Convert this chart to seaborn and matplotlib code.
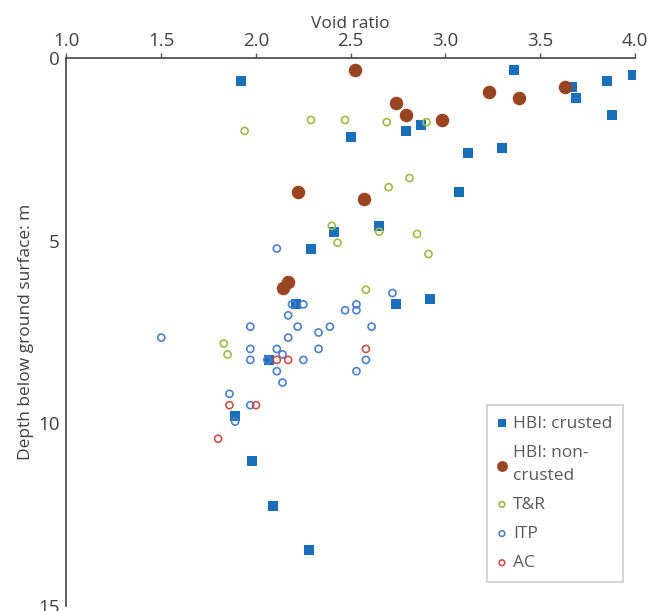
import pandas as pd
import matplotlib.pyplot as plt
import seaborn as sns

# HBI: crusted (void ratio, depth m)
crusted_e = [1.92, 3.36, 3.99, 3.85, 3.67, 3.69, 3.88, 2.87, 2.79, 2.50, 3.30, 3.12,
             3.07, 2.65, 2.41, 2.29, 2.92, 2.74, 2.21, 2.07, 1.89, 1.98, 2.09, 2.28]
crusted_d = [0.61, 0.31, 0.47, 0.61, 0.78, 1.08, 1.54, 1.84, 1.99, 2.15, 2.45, 2.60,
             3.67, 4.59, 4.75, 5.21, 6.59, 6.74, 6.74, 8.26, 9.79, 11.02, 12.25, 13.46]

# HBI: non-crusted
noncrusted_e = [2.52, 3.63, 3.23, 3.39, 2.74, 2.79, 2.98, 2.22, 2.57, 2.17, 2.14]
noncrusted_d = [0.31, 0.78, 0.92, 1.08, 1.23, 1.54, 1.69, 3.67, 3.84, 6.13, 6.28]

# T&R
tr_e = [1.94, 2.29, 2.47, 2.69, 2.90, 2.81, 2.70, 2.40, 2.65, 2.43, 2.85, 2.91, 2.58, 1.83, 1.85]
tr_d = [1.99, 1.69, 1.69, 1.75, 1.75, 3.28, 3.53, 4.59, 4.75, 5.05, 4.81, 5.36, 6.34, 7.81, 8.11]

# ITP
itp_e = [1.50, 1.97, 1.97, 1.97, 2.06, 2.11, 2.14, 2.11, 2.14, 2.17, 2.17, 2.19, 2.25, 2.22,
         2.25, 2.33, 2.33, 2.39, 2.47, 2.53, 2.53, 2.53, 2.61, 2.58, 2.72, 1.86, 1.97, 1.89, 2.11]
itp_d = [7.65, 7.35, 7.96, 8.26, 8.26, 7.96, 8.11, 8.57, 8.88, 7.65, 7.04, 6.74, 6.74, 7.35,
         8.26, 7.51, 7.96, 7.35, 6.90, 6.74, 6.90, 8.57, 7.35, 8.26, 6.43, 9.19, 9.50, 9.95, 5.21]

# AC
ac_e = [2.17, 2.11, 2.58, 1.86, 2.00, 1.80]
ac_d = [8.26, 8.26, 7.96, 9.50, 9.50, 10.42]

sns.set_style("white")
plt.rcParams["font.family"] = ["Open Sans", "DejaVu Sans"]

text_col = "#404040"
fig = plt.figure(figsize=(6.5, 6.11), dpi=100)
ax = fig.add_axes([0.1023, 0.0082, 0.8746, 0.8964])

sns.scatterplot(x=crusted_e, y=crusted_d, ax=ax, marker="s", s=60,
                color="#1a6fba", linewidth=0, label="HBI: crusted")
sns.scatterplot(x=noncrusted_e, y=noncrusted_d, ax=ax, marker="o", s=95,
                color="#984621", linewidth=0, label="HBI: non-\ncrusted")
sns.scatterplot(x=tr_e, y=tr_d, ax=ax, marker="o", s=26, color="#9bbb45",
                facecolor="none", edgecolor="#9bbb45", linewidth=1.2, label="T&R")
sns.scatterplot(x=itp_e, y=itp_d, ax=ax, marker="o", s=26, color="#4a80c9",
                facecolor="none", edgecolor="#4a80c9", linewidth=1.2, label="ITP")
sns.scatterplot(x=ac_e, y=ac_d, ax=ax, marker="o", s=26, color="#cf4f4f",
                facecolor="none", edgecolor="#cf4f4f", linewidth=1.2, label="AC")

ax.set_xlim(1.0, 4.0)
ax.set_ylim(15, 0)
ax.set_xticks([1.0, 1.5, 2.0, 2.5, 3.0, 3.5, 4.0])
ax.set_xticklabels(["1.0", "1.5", "2.0", "2.5", "3.0", "3.5", "4.0"])
ax.set_yticks([0, 5, 10, 15])
ax.xaxis.tick_top()
ax.xaxis.set_label_position("top")
ax.set_xlabel("Void ratio", fontsize=12.5, color=text_col, labelpad=3)
ax.set_ylabel("Depth below ground surface: m", fontsize=12.5, color=text_col, labelpad=3)
ax.tick_params(axis="both", direction="out", length=3.6, width=1, colors="#555555",
               labelcolor=text_col, labelsize=13.5)
ax.tick_params(axis="x", pad=2.5)
ax.tick_params(axis="y", pad=1.5)

for side in ["right", "bottom"]:
    ax.spines[side].set_visible(False)
for side in ["left", "top"]:
    ax.spines[side].set_color("#444444")
    ax.spines[side].set_linewidth(1.2)

leg = ax.legend(loc="upper left", bbox_to_anchor=(0.74, 0.367), frameon=True,
                fancybox=False, edgecolor="#c0c0c0", fontsize=12.5,
                handletextpad=0.4, handlelength=0.5, borderpad=0.6,
                borderaxespad=0, labelspacing=0.75, markerscale=0.8)
leg.get_frame().set_linewidth(1.2)
for t in leg.get_texts():
    t.set_color("#595959")
    t.set_linespacing(1.6)

fig.savefig("out.png", dpi=100)
